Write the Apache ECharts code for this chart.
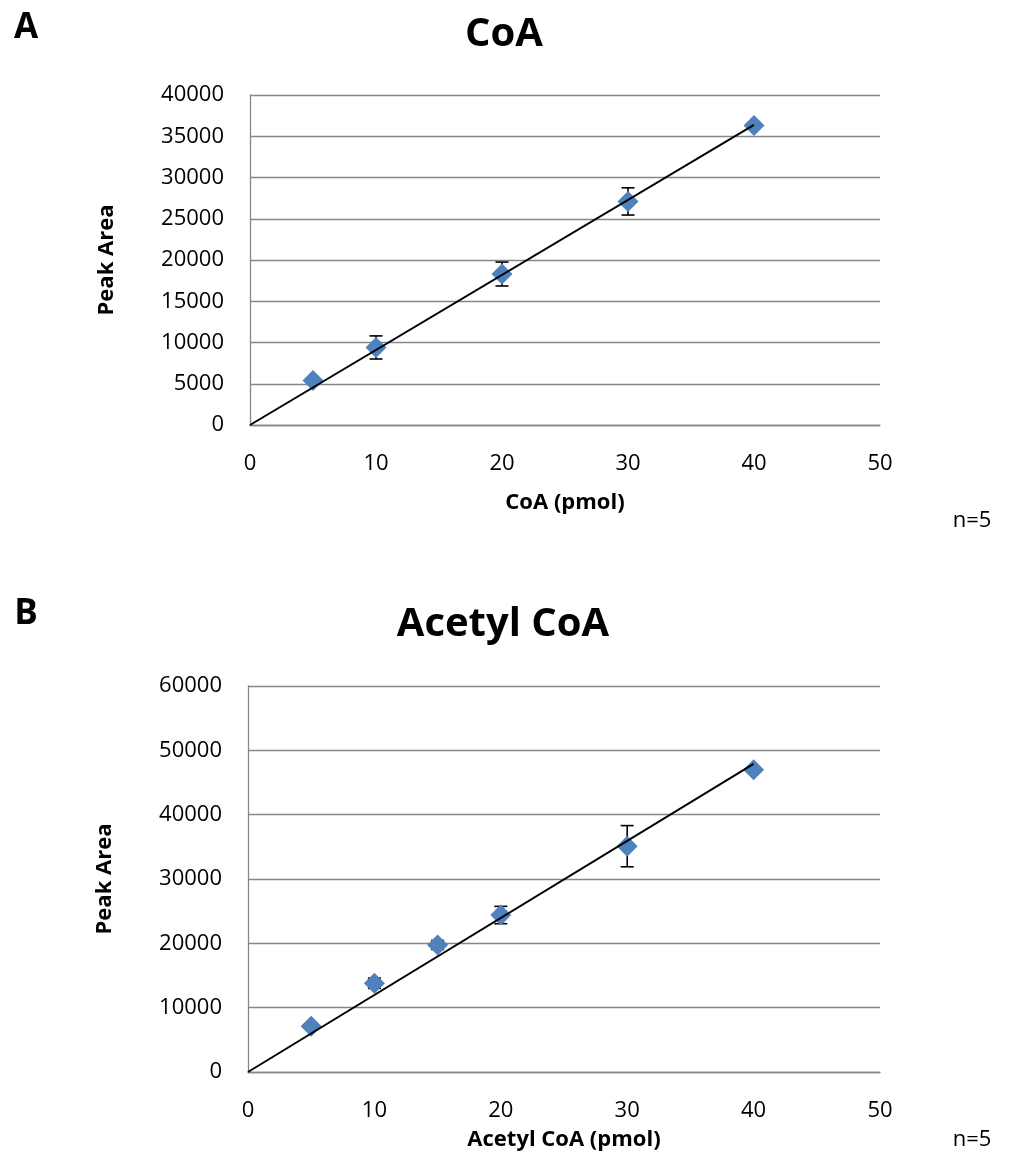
<!DOCTYPE html>
<html>
<head>
<meta charset="utf-8">
<script src="https://cdn.jsdelivr.net/npm/echarts@6/dist/echarts.min.js"></script>
<style>html,body{margin:0;padding:0;background:#fff}#c{width:1012px;height:1164px}</style>
</head>
<body>
<div id="c"></div>
<script>
// Chart A: CoA
const coaX = [5, 10, 20, 30, 40];
const coaY = [5400, 9400, 18300, 27100, 36300];
const coaErr = [250, 1400, 1450, 1650, 250];
// Chart B: Acetyl CoA
const acX = [5, 10, 15, 20, 30, 40];
const acY = [7100, 13800, 19750, 24400, 35100, 47000];
const acErr = [400, 800, 700, 1350, 3200, 400];
// Axis ticks
const xTicks = [0, 10, 20, 30, 40, 50];
const coaYTicks = [0, 5000, 10000, 15000, 20000, 25000, 30000, 35000, 40000];
const acYTicks = [0, 10000, 20000, 30000, 40000, 50000, 60000];

const FONT = '"Open Sans", "Noto Sans", sans-serif';
const GRID_COLOR = '#878787';

function slopeThroughOrigin(xs, ys) {
  let sxy = 0, sxx = 0;
  xs.forEach((x, i) => { sxy += x * ys[i]; sxx += x * x; });
  return sxy / sxx;
}
const coaSlope = slopeThroughOrigin(coaX, coaY);
const acSlope = slopeThroughOrigin(acX, acY);

function pts(xs, ys) { return xs.map((x, i) => [x, ys[i]]); }
function errData(xs, ys, es) { return xs.map((x, i) => [x, ys[i] - es[i], ys[i] + es[i]]); }

function renderErr(params, api) {
  const x = api.value(0);
  const lo = api.coord([x, api.value(1)]);
  const hi = api.coord([x, api.value(2)]);
  const w = 6.5;
  const style = { stroke: '#000', lineWidth: 1.6 };
  return {
    type: 'group',
    children: [
      { type: 'line', shape: { x1: lo[0], y1: lo[1], x2: hi[0], y2: hi[1] }, style },
      { type: 'line', shape: { x1: lo[0] - w, y1: lo[1], x2: lo[0] + w, y2: lo[1] }, style },
      { type: 'line', shape: { x1: hi[0] - w, y1: hi[1], x2: hi[0] + w, y2: hi[1] }, style }
    ]
  };
}

function xAxisCfg(gridIndex, name, nameGap) {
  return {
    type: 'value', gridIndex, min: xTicks[0], max: xTicks[xTicks.length - 1],
    interval: xTicks[1] - xTicks[0],
    name, nameLocation: 'middle', nameGap,
    nameTextStyle: { fontFamily: FONT, fontWeight: 'bold', fontSize: 22, color: '#000' },
    axisLine: { show: true, onZero: false, lineStyle: { color: GRID_COLOR, width: 1.3 } },
    axisTick: { show: false },
    splitLine: { show: false },
    axisLabel: { fontFamily: FONT, fontSize: 22, color: '#000', margin: 28, formatter: v => String(v) }
  };
}
function yAxisCfg(gridIndex, ticks) {
  return {
    type: 'value', gridIndex, min: ticks[0], max: ticks[ticks.length - 1],
    interval: ticks[1] - ticks[0],
    name: 'Peak Area', nameLocation: 'middle', nameGap: 132,
    nameTextStyle: { fontFamily: FONT, fontWeight: 'bold', fontSize: 22, color: '#000' },
    axisLine: { show: true, lineStyle: { color: GRID_COLOR, width: 1.3 } },
    axisTick: { show: false },
    splitLine: { show: true, lineStyle: { color: GRID_COLOR, width: 1.3 } },
    axisLabel: { fontFamily: FONT, fontSize: 22, color: '#000', margin: 26, formatter: v => String(v) }
  };
}

function seriesFor(idx, xs, ys, es, slope) {
  return [
    {
      type: 'custom', xAxisIndex: idx, yAxisIndex: idx, z: 2,
      renderItem: renderErr, data: errData(xs, ys, es), silent: true
    },
    {
      type: 'scatter', xAxisIndex: idx, yAxisIndex: idx, z: 3,
      symbol: 'diamond', symbolSize: [21, 21],
      itemStyle: { color: '#4F81BD', opacity: 1 },
      data: pts(xs, ys)
    },
    {
      type: 'line', xAxisIndex: idx, yAxisIndex: idx, z: 4,
      symbol: 'none', lineStyle: { color: '#000', width: 2 },
      data: [[0, 0], [xs[xs.length - 1], slope * xs[xs.length - 1]]]
    }
  ];
}

const chart = echarts.init(document.getElementById('c'), null, { renderer: 'canvas' });
const textStyleBig = (t, x, y, size) => ({
  type: 'text', x, y,
  style: { text: t, fontFamily: FONT, fontWeight: 'bold', fontSize: size, fill: '#000', textAlign: 'center', textVerticalAlign: 'middle' }
});
const textStyleN = (x, y) => ({
  type: 'text', x, y,
  style: { text: 'n=5', fontFamily: FONT, fontSize: 22, fill: '#000', textAlign: 'center', textVerticalAlign: 'middle' }
});

chart.setOption({
  backgroundColor: '#fff',
  animation: false,
  grid: [
    { left: 250, top: 95, width: 630, height: 330 },
    { left: 248, top: 686, width: 632, height: 386 }
  ],
  xAxis: [xAxisCfg(0, 'CoA (pmol)', 67), xAxisCfg(1, 'Acetyl CoA (pmol)', 57)],
  yAxis: [yAxisCfg(0, coaYTicks), yAxisCfg(1, acYTicks)],
  series: [].concat(
    seriesFor(0, coaX, coaY, coaErr, coaSlope),
    seriesFor(1, acX, acY, acErr, acSlope)
  ),
  graphic: [
    textStyleBig('A', 26, 28, 35),
    textStyleBig('CoA', 504, 35, 40),
    textStyleN(972, 521),
    textStyleBig('B', 26, 614, 35),
    textStyleBig('Acetyl CoA', 503, 625, 40),
    textStyleN(972, 1140)
  ]
});
</script>
</body>
</html>
